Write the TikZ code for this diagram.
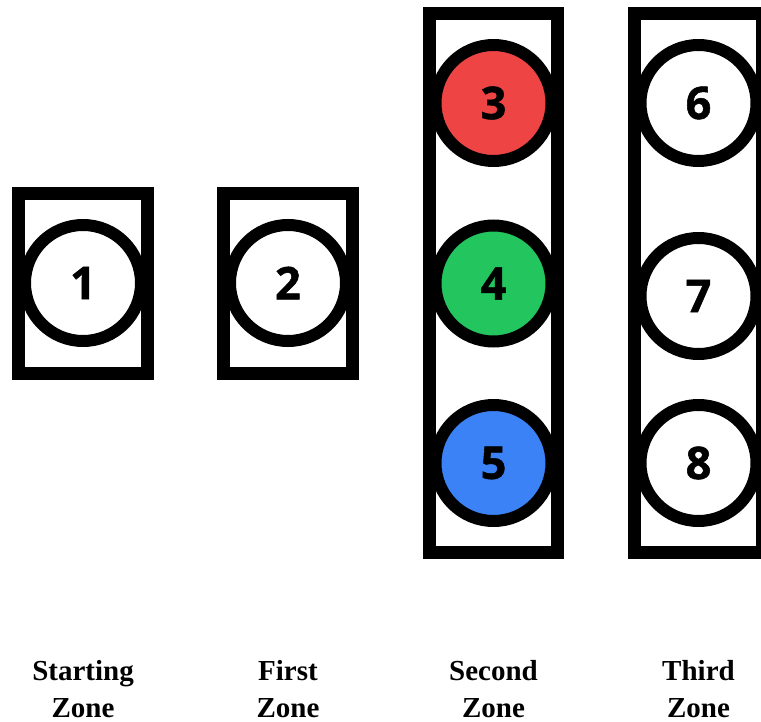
\documentclass[tikz,border=0pt]{standalone}
\usepackage{fontspec}
\setmainfont{Liberation Serif}
\newfontfamily\digitfont{Open Sans}[BoldFeatures={FakeBold=1.2}]
\definecolor{redfill}{HTML}{EF4444}
\definecolor{greenfill}{HTML}{22C55E}
\definecolor{bluefill}{HTML}{3B82F6}
\tikzset{
  zonebox/.style={draw=black, line width=13pt, fill=none},
  ball/.style={circle, draw=black, line width=12pt, minimum size=116pt, inner sep=0pt,
    font=\digitfont\bfseries\fontsize{45}{45}\selectfont, text=black},
  zonelabel/.style={align=center, anchor=base, inner sep=0pt,
    font=\bfseries\fontsize{29}{37}\selectfont}
}
\begin{document}
\begin{tikzpicture}[x=1pt, y=-1pt]
  \useasboundingbox (0,0) rectangle (761,722);
  \clip (0,0) rectangle (761,722);

  % zone frames
  \draw[zonebox] (18.5,193.5) rectangle (147,373.5);
  \draw[zonebox] (223.5,193.5) rectangle (352.5,373.5);
  \draw[zonebox] (429.5,13.5) rectangle (557.5,552.5);
  \draw[zonebox] (634.5,13.5) rectangle (762.5,552.5);

  % balls
  \node[ball, fill=white] (b1) at (83,283) {1};
  \node[ball, fill=white] (b2) at (288,283) {2};
  \node[ball, fill=redfill] (b3) at (493.5,103) {3};
  \node[ball, fill=greenfill] (b4) at (493.5,283.5) {4};
  \node[ball, fill=bluefill] (b5) at (493.5,463) {5};
  \node[ball, fill=white] (b6) at (698.5,103) {6};
  \node[ball, fill=white] (b7) at (698.5,296) {7};
  \node[ball, fill=white] (b8) at (698.5,463) {8};

  % zone captions (base anchor sits on the last line)
  \node[zonelabel] (l1) at (83,717) {Starting\\Zone};
  \node[zonelabel] (l2) at (288,717) {First\\Zone};
  \node[zonelabel] (l3) at (493.5,717) {Second\\Zone};
  \node[zonelabel] (l4) at (698.5,717) {Third\\Zone};
\end{tikzpicture}
\end{document}
